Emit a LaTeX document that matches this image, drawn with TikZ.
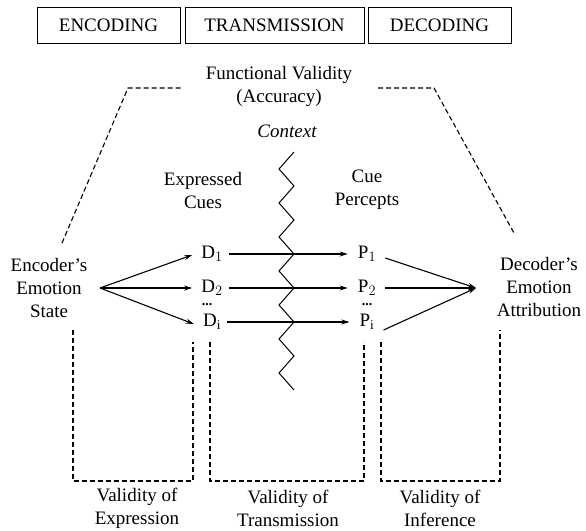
\documentclass[tikz,border=0pt]{standalone}
\usepackage{fontspec}
\setmainfont{Liberation Serif}
\usetikzlibrary{arrows.meta}
\tikzset{
  txt/.style={font=\fontsize{19}{23}\selectfont, align=center, inner sep=0pt},
  dots/.style={font=\fontsize{14}{14}\selectfont\bfseries, inner sep=0pt},
  hdr/.style={draw, line width=0.9pt, minimum height=36pt, font=\fontsize{19}{23}\selectfont, inner sep=0pt},
  dsh/.style={line width=1.1pt, dash pattern=on 5pt off 3pt},
  arr/.style={line width=1.1pt, -{Stealth[length=8pt,width=5pt]}},
  zig/.style={line width=1pt},
}
\begin{document}
\begin{tikzpicture}[x=1pt,y=-1pt]
\useasboundingbox (0,0) rectangle (586,530);
% header boxes
\node[hdr, minimum width=143pt] (enchdr) at (108.5,25) {ENCODING};
\node[hdr, minimum width=179pt] (trhdr) at (274.5,25) {TRANSMISSION};
\node[hdr, minimum width=143pt] (dechdr) at (439.5,25) {DECODING};
% functional validity
\node[txt] (fv) at (279,86) {Functional Validity\\(Accuracy)};
\draw[dsh] (62,243) -- (128,88) -- (182,88);
\draw[dsh] (378,88) -- (434,88) -- (514,233);
% context
\node[txt, font=\fontsize{19}{23}\selectfont\itshape] (ctx) at (287,131) {Context};
\draw[zig] (294,152) \foreach \k in {0,...,6} { -- (279,{169+34*\k}) -- (294,{186+34*\k}) };
% column headings
\node[txt] (ec) at (203,190) {Expressed\\Cues};
\node[txt] (cp) at (367,190) {Cue\\Percepts};
% encoder / decoder
\node[txt] (enc) at (49,288) {Encoder’s\\Emotion\\State};
\node[txt] (dec) at (539,287) {Decoder’s\\Emotion\\Attribution};
\coordinate (eo) at (100,288);
\coordinate (di) at (476,288);
% cues and percepts
\node[txt] (d1) at (212,254) {D$_1$};
\node[txt] (d2) at (212,288) {D$_2$};
\node[dots] (dd) at (207,305) {...};
\node[txt] (dn) at (212,322) {D$_\mathrm{i}$};
\node[txt] (p1) at (367,254) {P$_1$};
\node[txt] (p2) at (367,288) {P$_2$};
\node[dots] (pd) at (367,305) {...};
\node[txt] (pn) at (367,322) {P$_\mathrm{i}$};
% arrows encoder -> D
\draw[arr] (eo) -- ([xshift=-9pt,yshift=-1pt]d1.west);
\draw[arr] (eo) -- ([xshift=-9pt]d2.west);
\draw[arr] (eo) -- ([xshift=-9pt,yshift=-2pt]dn.west);
% D -> P
\draw[arr] ([xshift=6pt]d1.east) -- ([xshift=-10pt]p1.west);
\draw[arr] ([xshift=6pt]d2.east) -- ([xshift=-10pt]p2.west);
\draw[arr] ([xshift=6pt]dn.east) -- ([xshift=-10pt]pn.west);
% P -> decoder
\draw[arr] ([xshift=9pt,yshift=-4pt]p1.east) -- (di);
\draw[arr] ([xshift=9pt]p2.east) -- (di);
\draw[arr] ([xshift=9pt,yshift=-8pt]pn.east) -- (di);
% validity brackets
\draw[dsh] (73,330) -- (73,481) -- (193,481) -- (193,342);
\draw[dsh] (210,342) -- (210,481) -- (364,481) -- (364,342);
\draw[dsh] (381,342) -- (381,481) -- (500,481) -- (500,330);
\node[txt] (ve) at (137,508) {Validity of\\Expression};
\node[txt] (vt) at (288,508) {Validity of\\Transmission};
\node[txt] (vi) at (440,508) {Validity of\\Inference};
\end{tikzpicture}
\end{document}
